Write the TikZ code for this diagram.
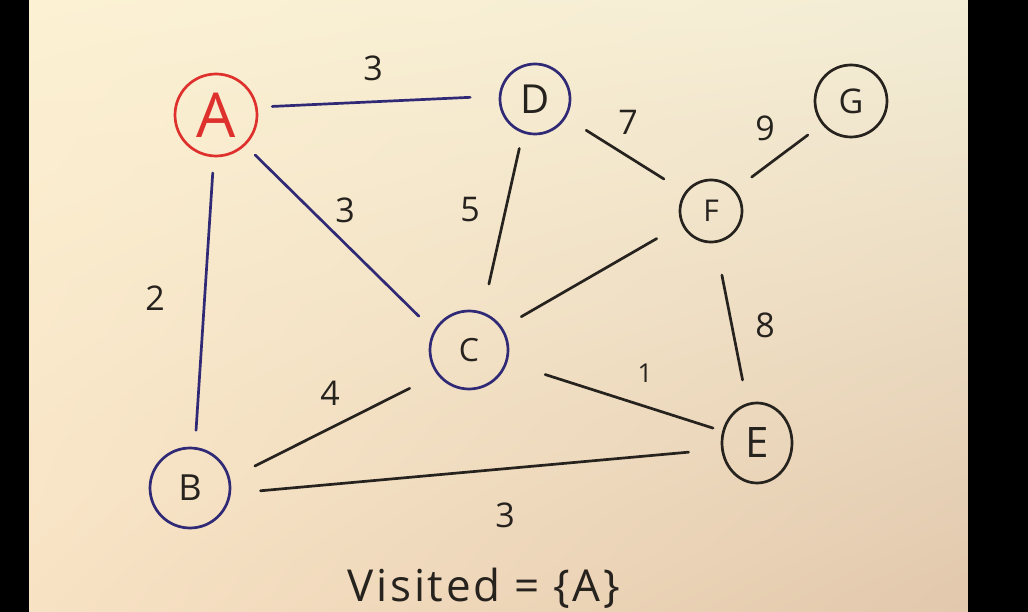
\documentclass[tikz,border=0pt]{standalone}
\usepackage{fontspec}
\setmainfont{Open Sans}
\usetikzlibrary{shapes.geometric,shadings}
\definecolor{inkR}{RGB}{222,48,44}
\definecolor{inkB}{RGB}{48,42,118}
\definecolor{inkK}{RGB}{38,34,30}
\definecolor{paperUL}{HTML}{FCF1D3}
\definecolor{paperUR}{HTML}{F3EDD6}
\definecolor{paperLL}{HTML}{F8E2C4}
\definecolor{paperLR}{HTML}{E2C8AC}
\newcommand{\fs}[1]{\fontsize{#1}{#1}\selectfont}
\begin{document}
\begin{tikzpicture}[x=1pt,y=-1pt,
  vertex/.style={circle,draw=inkK,text=inkK,line width=2.7pt,inner sep=0pt,outer sep=0pt},
  edge/.style={draw=inkK,line width=2.7pt,line cap=round},
  wt/.style={text=inkK,font=\fs{34},inner sep=0pt},
]
\useasboundingbox (0,0) rectangle (1028,612);
% paper and the dark margins
\shade[upper left=paperUL,upper right=paperUR,lower left=paperLL,lower right=paperLR]
  (29,0) rectangle (968,612);
\fill[black] (0,0) rectangle (29,612);
\fill[black] (968,0) rectangle (1028,612);

% vertices
\node[vertex,draw=inkR,text=inkR,minimum size=82pt,font=\fs{62}] (A) at (216,115) {A};
\node[vertex,draw=inkB,text=inkK,minimum size=70pt,font=\fs{40}] (D) at (535,99) {D};
\node[vertex,minimum size=72pt,font=\fs{34}] (G) at (851,101) {G};
\node[vertex,minimum size=62pt,font=\fs{30}] (F) at (711,211) {F};
\node[vertex,draw=inkB,minimum size=78pt,font=\fs{32}] (C) at (469,350) {C};
\node[vertex,ellipse,minimum width=70pt,minimum height=80pt,font=\fs{42}] (E) at (757,443) {E};
\node[vertex,draw=inkB,minimum size=80pt,font=\fs{36}] (B) at (190,488) {B};

% edges from the visited vertex
\draw[edge,draw=inkB,shorten <=16pt,shorten >=30pt] (A.11) -- (D.175);
\draw[edge,draw=inkB,shorten <=15pt,shorten >=22pt] (A.-46) -- (C.152.6);
\draw[edge,draw=inkB,shorten <=17pt,shorten >=18pt] (A.-93) -- (B.83);
% remaining edges
\draw[edge,shorten <=17pt,shorten >=30pt] (D.-110) -- (C.70.5);
\draw[edge,shorten <=25pt,shorten >=26pt] (D.-31) -- (F.144);
\draw[edge,shorten <=22pt,shorten >=19pt] (F.42.7) -- (G.-141.7);
\draw[edge,shorten <=30pt,shorten >=23pt] (F.-156.8) -- (C.34.5);
\draw[edge,shorten <=34pt,shorten >=25pt] (F.-82) -- (E.104);
\draw[edge,shorten <=41pt,shorten >=11pt] (C.-18) -- (E.161.6);
\draw[edge,shorten <=32pt,shorten >=29pt] (C.-142.5) -- (B.13.4);
\draw[edge,shorten <=31pt,shorten >=34pt] (B.-8) -- (E.-170);

% weights
\node[wt] (wAD) at (373,68) {3};
\node[wt] (wAC) at (345,210) {3};
\node[wt] (wAB) at (155,298) {2};
\node[wt] (wDC) at (470,210) {5};
\node[wt] (wDF) at (628,122) {7};
\node[wt] (wFG) at (765,128) {9};
\node[wt] (wFE) at (765,325) {8};
\node[wt,font=\fs{26}] (wCE) at (645,373) {1};
\node[wt] (wCB) at (330,393) {4};
\node[wt] (wBE) at (505,515) {3};

% visited set
\node[text=inkK,font={\fs{44}\addfontfeatures{LetterSpace=6}},inner sep=0pt] (vis) at (484,588) {Visited = \{A\}};
\end{tikzpicture}
\end{document}
